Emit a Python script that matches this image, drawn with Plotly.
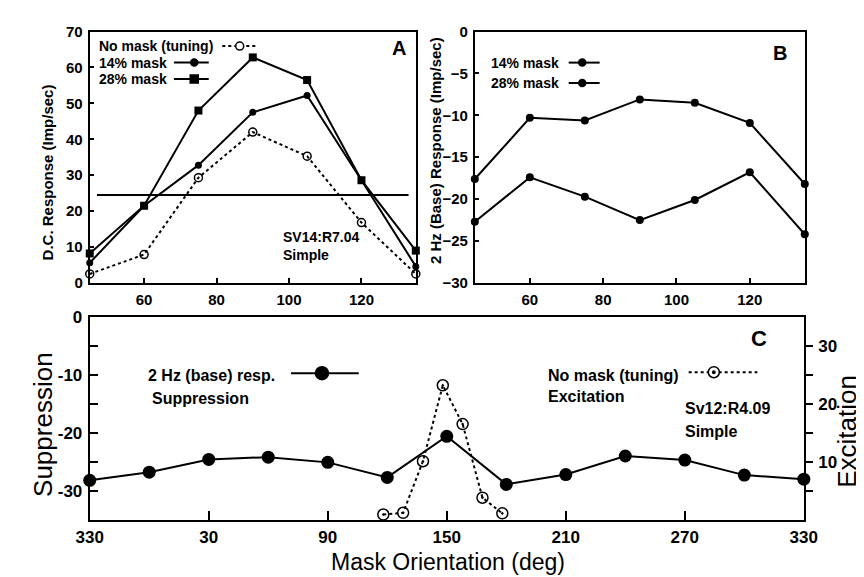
import plotly.graph_objects as go

W, H = 864, 577

# ---------------- data ----------------
# Panels A & B: orientation (deg)
orient_ab = [45, 60, 75, 90, 105, 120, 135]
ab_tickvals = [60, 80, 100, 120]

# Panel A: D.C. response (imp/sec)
a_nomask = [2.5, 7.9, 29.3, 42.0, 35.3, 16.8, 2.5]
a_mask14 = [5.6, 21.5, 32.8, 47.5, 52.2, 28.6, 4.6]
a_mask28 = [8.2, 21.5, 48.0, 62.8, 56.5, 28.6, 9.0]
a_ref_x = [47, 133]
a_ref_y = [24.5, 24.5]

# Panel B: 2 Hz (base) response (imp/sec)
b_mask14 = [-17.6, -10.3, -10.6, -8.1, -8.5, -10.9, -18.2]
b_mask28 = [-22.7, -17.4, -19.7, -22.5, -20.1, -16.8, -24.2]

# Panel C
c_supp_x = [-30, 0, 30, 60, 90, 120, 150, 180, 210, 240, 270, 300, 330]
c_supp_y = [-28.2, -26.8, -24.6, -24.2, -25.1, -27.7, -20.6, -28.9, -27.2,
            -24.0, -24.7, -27.3, -28.0]
c_exc_x = [118, 128, 138, 148, 158, 168, 178]
c_exc_y = [0.9, 1.2, 10.1, 23.2, 16.5, 3.8, 1.1]
c_tickvals = [-30, 30, 90, 150, 210, 270, 330]
c_ticktext = ["330", "30", "90", "150", "210", "270", "330"]
c_left_vals = [0, -5, -10, -15, -20, -25, -30]
c_left_text = ["0", "", "-10", "", "-20", "", "-30"]
c_right_vals = [5, 10, 15, 20, 25, 30]
c_right_text = ["", "10", "", "20", "", "30"]

# ---------------- helpers ----------------
FONT = "Liberation Sans, Arial, sans-serif"


def px(x):
    return x / W


def py(y):
    return 1 - y / H


fig = go.Figure()

LW = 2
# Panel A
fig.add_trace(go.Scatter(x=orient_ab, y=a_nomask, mode="lines+markers", xaxis="x", yaxis="y",
                         line=dict(color="black", width=LW, dash="dot"),
                         marker=dict(symbol="circle-open", size=8, color="black", line=dict(width=1.5)),
                         cliponaxis=False, showlegend=False))
fig.add_trace(go.Scatter(x=orient_ab, y=a_mask14, mode="lines+markers", xaxis="x", yaxis="y",
                         line=dict(color="black", width=LW),
                         marker=dict(symbol="circle", size=7, color="black"),
                         cliponaxis=False, showlegend=False))
fig.add_trace(go.Scatter(x=orient_ab, y=a_mask28, mode="lines+markers", xaxis="x", yaxis="y",
                         line=dict(color="black", width=LW),
                         marker=dict(symbol="square", size=8, color="black"),
                         cliponaxis=False, showlegend=False))
fig.add_trace(go.Scatter(x=a_ref_x, y=a_ref_y, mode="lines", xaxis="x", yaxis="y",
                         line=dict(color="black", width=LW), showlegend=False))
# Panel B
fig.add_trace(go.Scatter(x=orient_ab, y=b_mask14, mode="lines+markers", xaxis="x2", yaxis="y2",
                         line=dict(color="black", width=LW),
                         marker=dict(symbol="circle", size=8, color="black"),
                         cliponaxis=False, showlegend=False))
fig.add_trace(go.Scatter(x=orient_ab, y=b_mask28, mode="lines+markers", xaxis="x2", yaxis="y2",
                         line=dict(color="black", width=LW),
                         marker=dict(symbol="circle", size=8, color="black"),
                         cliponaxis=False, showlegend=False))
# Panel C
fig.add_trace(go.Scatter(x=c_exc_x, y=c_exc_y, mode="lines+markers", xaxis="x3", yaxis="y4",
                         line=dict(color="black", width=LW, dash="dot"),
                         marker=dict(symbol="circle-open-dot", size=11, color="black", line=dict(width=1.5)),
                         cliponaxis=False, showlegend=False))
fig.add_trace(go.Scatter(x=c_supp_x, y=c_supp_y, mode="lines+markers", xaxis="x3", yaxis="y3",
                         line=dict(color="black", width=LW),
                         marker=dict(symbol="circle", size=13, color="black"),
                         cliponaxis=False, showlegend=False))

tick_ab = dict(family=FONT, size=15, color="black", weight="bold")
tick_c = dict(family=FONT, size=17, color="black", weight="bold")
common = dict(showline=True, linecolor="black", linewidth=2, mirror=True, showgrid=False,
              zeroline=False, ticks="inside", tickcolor="black", tickwidth=1.5)

top_ab, bot_ab = 15, 274
top_c, bot_c = 309, 518

fig.update_layout(
    width=W, height=H, margin=dict(l=0, r=0, t=0, b=0),
    paper_bgcolor="white", plot_bgcolor="white",
    font=dict(family=FONT, color="black"),
    xaxis=dict(domain=[px(70), px(407)], range=[45, 135], tickvals=ab_tickvals, anchor="y",
               ticklen=5, tickfont=tick_ab, ticklabelstandoff=2, **common),
    yaxis=dict(domain=[py(bot_ab), py(top_ab)], range=[0, 70], dtick=10, tick0=0, anchor="x",
               ticklen=4, tickfont=tick_ab, ticklabelstandoff=2, **common),
    xaxis2=dict(domain=[px(468), px(809)], range=[45, 135], tickvals=ab_tickvals, anchor="y2",
                ticklen=5, tickfont=tick_ab, ticklabelstandoff=2, **common),
    yaxis2=dict(domain=[py(bot_ab), py(top_ab)], range=[-30, 0], dtick=5, tick0=0, anchor="x2",
                ticklen=4, tickfont=tick_ab, ticklabelstandoff=2, **common),
    xaxis3=dict(domain=[px(70), px(808)], range=[-30, 330], tickvals=c_tickvals, ticktext=c_ticktext,
                anchor="y3", ticklen=9, tickfont=tick_c, ticklabelstandoff=1, **common),
    yaxis3=dict(domain=[py(bot_c), py(top_c)], range=[-35, 0], tickvals=c_left_vals, ticktext=c_left_text,
                anchor="x3", ticklen=8, tickfont=tick_c, ticklabelstandoff=2, **common),
    yaxis4=dict(range=[0, 35], tickvals=c_right_vals, ticktext=c_right_text, overlaying="y3",
                side="right", anchor="x3", showline=False, showgrid=False, zeroline=False,
                ticks="outside", ticklen=8, tickcolor="black", tickwidth=1.5, tickfont=tick_c,
                ticklabelstandoff=2),
)

ann = []


def text(x, y, s, size, bold=True, xanchor="left", angle=0):
    ann.append(dict(x=px(x), y=py(y), xref="paper", yref="paper", text=s, showarrow=False,
                    xanchor=xanchor, yanchor="middle", textangle=angle, align="left",
                    font=dict(family=FONT, size=size, color="black",
                              weight="bold" if bold else "normal")))


shapes = []


def seg(x0, x1, y, dash="solid"):
    shapes.append(dict(type="line", xref="paper", yref="paper", x0=px(x0), x1=px(x1),
                       y0=py(y), y1=py(y), line=dict(color="black", width=LW, dash=dash)))


def dot(x, y, r, kind="circle", filled=True):
    shapes.append(dict(type="rect" if kind == "square" else "circle", xref="paper", yref="paper",
                       xsizemode="pixel", ysizemode="pixel", xanchor=px(x), yanchor=py(y),
                       x0=-r, x1=r, y0=-r, y1=r,
                       fillcolor="black" if filled else "white",
                       line=dict(color="black", width=1.5)))


# Panel A labels / legend
text(78, 30, "No mask (tuning)", 14)
seg(207, 243, 30, "dot"); dot(225, 30, 4, filled=False)
text(78, 47, "14% mask", 14)
seg(157, 193, 47); dot(178, 47, 3.5)
text(78, 64, "28% mask", 14)
seg(157, 193, 64); dot(178, 64, 4, kind="square")
text(390, 32, "A", 20, xanchor="center")
text(268, 236, "SV14:R7.04<br>Simple", 14)
text(26, 160, "D.C. Response (Imp/sec)", 15, xanchor="center", angle=-90)

# Panel B labels / legend
text(483, 47, "14% mask", 14)
seg(565, 597, 47); dot(579, 47, 3.5)
text(483, 68, "28% mask", 14)
seg(565, 597, 68); dot(579, 68, 3.5)
text(783, 37, "B", 20, xanchor="center")
text(428, 138, "2 Hz (Base) Response (Imp/sec)", 15, xanchor="center", angle=-90)

# Panel C labels / legend
text(128, 369, "2 Hz (base) resp.", 16)
text(132, 393, "Suppression", 16)
seg(278, 348, 367); dot(310, 367, 6.5)
text(542, 369, "No mask (tuning)", 16)
text(542, 391, "Excitation", 16)
seg(689, 760, 366, "dot"); dot(715, 366, 5.5, filled=False); dot(715, 366, 1.2)
text(683, 403, "Sv12:R4.09", 16)
text(683, 427, "Simple", 16)
text(762, 331, "C", 22, xanchor="center")
text(21, 420, "Suppression", 26, bold=False, xanchor="center", angle=-90)
text(853, 427, "Excitation", 26, bold=False, xanchor="center", angle=-90)
text(440, 562, "Mask Orientation (deg)", 23, bold=False, xanchor="center")

fig.update_layout(annotations=ann, shapes=shapes)
fig.write_html("out.html")
